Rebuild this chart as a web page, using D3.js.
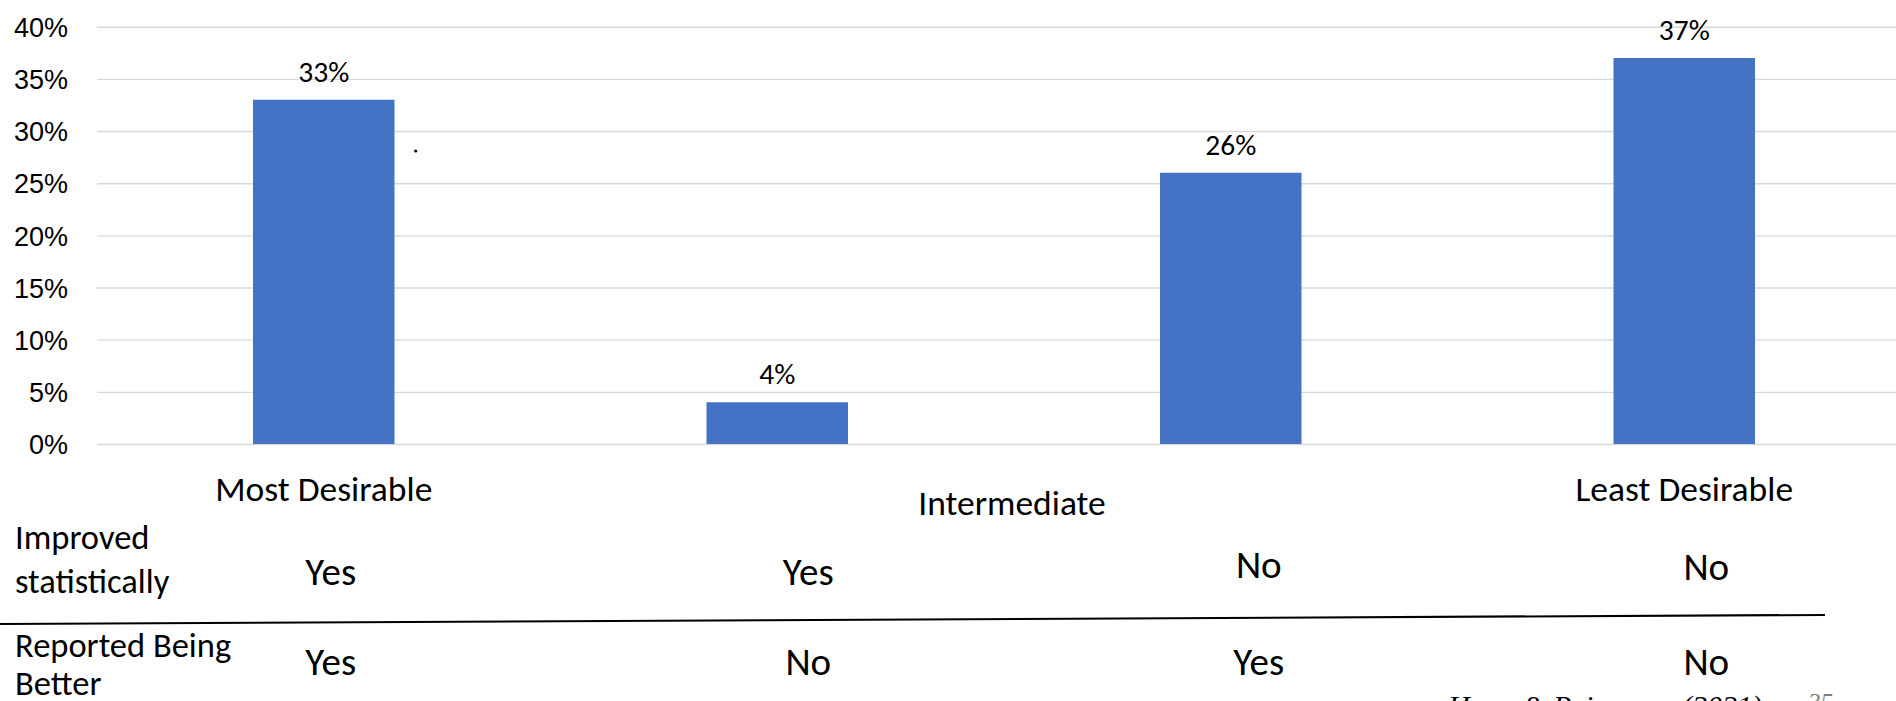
<!DOCTYPE html>
<html>
<head>
<meta charset="utf-8">
<script src="https://d3js.org/d3.v7.min.js"></script>
<style>
  body { margin: 0; background: #fff; }
  svg { display: block; font-family: Carlito, Lato, sans-serif; }
</style>
</head>
<body>
<div id="graph"></div>
<script>
// data
var categories = ["Most Desirable", "Intermediate A", "Intermediate B", "Least Desirable"];
var values = [0.33, 0.04, 0.26, 0.37];
var yTicks = [0, 0.05, 0.10, 0.15, 0.20, 0.25, 0.30, 0.35, 0.40];
var groupLabels = ["Most Desirable", "Intermediate", "Least Desirable"];
var groupSpans = [[0, 0], [1, 2], [3, 3]];
var rowLabels = [["Improved", "statistically"], ["Reported Being", "Better"]];
var improved = ["Yes", "Yes", "No", "No"];
var reported = ["Yes", "No", "Yes", "No"];

var width = 1896, height = 701;
var plot = {left: 97, right: 1911, top: 26.7, bottom: 444};

var svg = d3.select("#graph")
  .append("svg")
    .attr("width", width)
    .attr("height", height);

svg.append("rect")
  .attr("width", width)
  .attr("height", height)
  .attr("fill", "#fff");

var x = d3.scaleBand()
  .domain(categories)
  .range([plot.left, plot.right])
  .paddingInner(0.688)
  .paddingOuter(0.344);

var y = d3.scaleLinear()
  .domain([0, 0.4])
  .range([plot.bottom, plot.top]);

// gridlines + tick labels
var yAxis = svg.append("g")
  .attr("transform", "translate(" + plot.left + ",0)")
  .call(d3.axisLeft(y)
    .tickValues(yTicks)
    .tickFormat(d3.format(".0%"))
    .tickSize(-(plot.right - plot.left))
    .tickPadding(29));

yAxis.select(".domain").remove();
yAxis.selectAll(".tick line")
  .attr("stroke", "#d9d9d9")
  .attr("stroke-width", 1.4);
yAxis.selectAll(".tick text")
  .attr("fill", "#000")
  .attr("dy", "0.36em")
  .style("font-size", "27px");

svg.selectAll("rect.bar")
  .data(values)
  .enter()
  .append("rect")
    .attr("class", "bar")
    .attr("x", function(d, i) { return x(categories[i]); })
    .attr("y", function(d) { return y(d); })
    .attr("width", x.bandwidth())
    .attr("height", function(d) { return y(0) - y(d); })
    .attr("fill", "#4472c4");

svg.selectAll("text.value")
  .data(values)
  .enter()
  .append("text")
    .attr("class", "value")
    .attr("x", function(d, i) { return x(categories[i]) + x.bandwidth() / 2; })
    .attr("y", function(d) { return y(d) - 18; })
    .attr("text-anchor", "middle")
    .style("font-size", "29.5px")
    .text(function(d) { return d3.format(".0%")(d); });

// stray dot on the slide
svg.append("circle")
  .attr("cx", 415.7)
  .attr("cy", 151)
  .attr("r", 1.6)
  .attr("fill", "#000");

// group labels under the bars
var groupNudge = [[0, 501], [8, 515], [0, 501]];
svg.selectAll("text.group")
  .data(groupLabels)
  .enter()
  .append("text")
    .attr("class", "group")
    .attr("x", function(d, i) {
      var a = x(categories[groupSpans[i][0]]), b = x(categories[groupSpans[i][1]]) + x.bandwidth();
      return (a + b) / 2 + groupNudge[i][0];
    })
    .attr("y", function(d, i) { return groupNudge[i][1]; })
    .attr("text-anchor", "middle")
    .style("font-size", "35.5px")
    .text(function(d) { return d; });

// row headers
var rowTop = [549, 657];
var rowGap = [44, 38];
rowLabels.forEach(function(lines, r) {
  svg.append("text")
    .attr("x", 15)
    .attr("y", rowTop[r])
    .style("font-size", "34.5px")
    .selectAll("tspan")
    .data(lines)
    .enter()
    .append("tspan")
      .attr("x", 15)
      .attr("dy", function(d, i) { return i ? rowGap[r] : 0; })
      .text(function(d) { return d; });
});

// yes / no cells
var colNudge = [7, 31, 28, 22];
var row1Base = [585, 585, 578, 580];
var row2Base = 675;

svg.selectAll("text.improved")
  .data(improved)
  .enter()
  .append("text")
    .attr("class", "improved")
    .attr("x", function(d, i) { return x(categories[i]) + x.bandwidth() / 2 + colNudge[i]; })
    .attr("y", function(d, i) { return row1Base[i]; })
    .attr("text-anchor", "middle")
    .style("font-size", "39px")
    .text(function(d) { return d; });

svg.selectAll("text.reported")
  .data(reported)
  .enter()
  .append("text")
    .attr("class", "reported")
    .attr("x", function(d, i) { return x(categories[i]) + x.bandwidth() / 2 + colNudge[i]; })
    .attr("y", row2Base)
    .attr("text-anchor", "middle")
    .style("font-size", "39px")
    .text(function(d) { return d; });

// separator between rows
svg.append("line")
  .attr("x1", 0)
  .attr("y1", 624)
  .attr("x2", 1825)
  .attr("y2", 615)
  .attr("stroke", "#000")
  .attr("stroke-width", 2.2);

// citation, cut off at the bottom of the slide
svg.append("text")
  .attr("x", 1448)
  .attr("y", 716)
  .style("font-family", "'Liberation Serif', serif")
  .style("font-style", "italic")
  .style("font-size", "30px")
  .text("Hong & Peirce");

svg.append("text")
  .attr("x", 1682)
  .attr("y", 716)
  .style("font-family", "'Liberation Serif', serif")
  .style("font-style", "italic")
  .style("font-size", "30px")
  .text("(2021)");

svg.append("text")
  .attr("x", 1808)
  .attr("y", 711)
  .attr("fill", "#7f7f7f")
  .style("font-family", "'Liberation Serif', serif")
  .style("font-style", "italic")
  .style("font-size", "25px")
  .text("35");
</script>
</body>
</html>
